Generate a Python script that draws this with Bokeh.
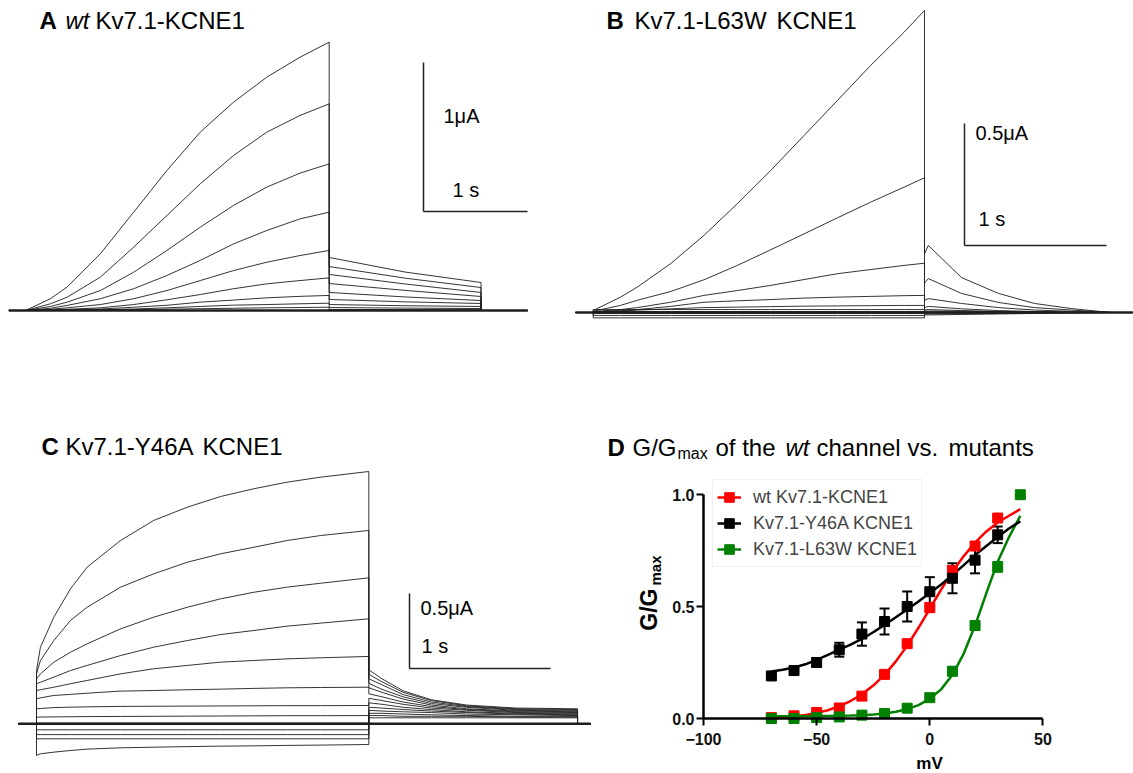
from bokeh.plotting import figure
from bokeh.layouts import column, row
from bokeh.models import (Label, Legend, LegendItem, FixedTicker, PrintfTickFormatter,
                          Whisker, TeeHead, ColumnDataSource, Range1d)
from bokeh.embed import file_html
from bokeh.resources import INLINE
import math

FONT = "Liberation Sans"
TRACE_COLOR = "#1e1e1e"

# ---------------- Panel A : wt Kv7.1-KCNE1 (time in s, current in uA) ----------------
A_T_PRE = -0.16
A_T_STEP = [0.0, 0.24, 0.40, 0.72, 1.04, 1.36, 1.68, 2.00, 2.32, 2.64, 2.92]
A_STEP = [
    [0.0, 0.079, 0.157, 0.381, 0.660, 0.940, 1.197, 1.398, 1.566, 1.700, 1.801],
    [0.0, 0.045, 0.089, 0.224, 0.425, 0.638, 0.850, 1.040, 1.197, 1.309, 1.387],
    [0.0, 0.027, 0.056, 0.134, 0.257, 0.403, 0.559, 0.705, 0.828, 0.922, 0.984],
    [0.0, 0.015, 0.034, 0.079, 0.146, 0.235, 0.336, 0.447, 0.537, 0.615, 0.660],
    [0.0, 0.008, 0.018, 0.040, 0.079, 0.134, 0.201, 0.268, 0.324, 0.369, 0.403],
    [0.0, 0.004, 0.008, 0.018, 0.040, 0.072, 0.107, 0.146, 0.179, 0.201, 0.219],
    [0.0, 0.003, 0.005, 0.010, 0.022, 0.035, 0.056, 0.070, 0.085, 0.095, 0.101],
    [0.0, 0.002, 0.003, 0.006, 0.010, 0.018, 0.027, 0.036, 0.040, 0.045, 0.049],
    [0.0, 0.001, 0.002, 0.004, 0.006, 0.009, 0.012, 0.015, 0.018, 0.020, 0.022],
    [0.0, 0.000, 0.000, 0.000, 0.000, 0.000, 0.000, 0.000, 0.000, 0.000, 0.000],
]
A_T_TAIL = [2.92, 3.65, 4.38]
A_TAIL = [
    [0.356, 0.258, 0.188],
    [0.295, 0.217, 0.154],
    [0.242, 0.178, 0.121],
    [0.181, 0.135, 0.094],
    [0.121, 0.091, 0.067],
    [0.074, 0.058, 0.047],
    [0.040, 0.032, 0.027],
    [0.020, 0.016, 0.013],
    [0.007, 0.006, 0.005],
    [0.000, 0.000, 0.000],
]
A_T_POST = 4.83
A_BAR_I = 1.0      # uA
A_BAR_T = 1.0      # s

# ---------------- Panel B : Kv7.1-L63W KCNE1 ----------------
B_T_PRE = -0.125
B_T_STEP = [0.0, 0.192, 0.31, 0.545, 0.78, 1.015, 1.25, 1.484, 1.72, 1.953, 2.19, 2.333]
B_STEP = [
    [0.008, 0.063, 0.104, 0.200, 0.316, 0.446, 0.582, 0.725, 0.869, 1.012, 1.149, 1.238],
    [0.005, 0.029, 0.050, 0.086, 0.134, 0.193, 0.257, 0.322, 0.388, 0.452, 0.514, 0.552],
    [0.004, 0.012, 0.020, 0.042, 0.070, 0.090, 0.111, 0.135, 0.159, 0.176, 0.193, 0.202],
    [0.003, 0.008, 0.012, 0.025, 0.042, 0.048, 0.053, 0.059, 0.063, 0.066, 0.069, 0.070],
    [0.002, 0.006, 0.010, 0.015, 0.020, 0.022, 0.024, 0.026, 0.027, 0.028, 0.029, 0.029],
    [0.012, 0.012, 0.012, 0.012, 0.012, 0.012, 0.012, 0.012, 0.012, 0.012, 0.012, 0.012],
    [0.004, 0.004, 0.004, 0.004, 0.004, 0.004, 0.004, 0.004, 0.004, 0.004, 0.004, 0.004],
    [-0.004, -0.004, -0.004, -0.004, -0.004, -0.004, -0.004, -0.004, -0.004, -0.004, -0.004, -0.004],
    [-0.012, -0.012, -0.012, -0.012, -0.012, -0.012, -0.012, -0.012, -0.012, -0.012, -0.012, -0.012],
    [-0.022, -0.022, -0.022, -0.022, -0.022, -0.022, -0.022, -0.022, -0.022, -0.022, -0.022, -0.022],
]
B_T_TAIL = [2.333, 2.36, 2.594, 2.855, 3.108, 3.369, 3.644]
B_TAIL = [
    [0.240, 0.275, 0.143, 0.078, 0.037, 0.016, 0.0],
    [0.120, 0.139, 0.078, 0.041, 0.020, 0.010, 0.0],
    [0.050, 0.057, 0.037, 0.020, 0.010, 0.005, 0.0],
    [0.020, 0.025, 0.015, 0.008, 0.004, 0.002, 0.0],
    [0.010, 0.012, 0.008, 0.004, 0.002, 0.000, 0.0],
    [0.006, 0.006, 0.005, 0.004, 0.002, 0.001, 0.0],
    [0.002, 0.002, 0.002, 0.001, 0.001, 0.000, 0.0],
    [-0.002, -0.002, -0.002, -0.001, -0.001, 0.000, 0.0],
    [-0.006, -0.006, -0.005, -0.004, -0.002, -0.001, 0.0],
    [-0.010, -0.010, -0.008, -0.006, -0.004, -0.002, 0.0],
]
B_T_POST = 3.80
B_BAR_I = 0.5
B_BAR_T = 1.0

# ---------------- Panel C : Kv7.1-Y46A KCNE1 ----------------
C_T_PRE = -0.128
C_T_STEP = [0.0, 0.028, 0.123, 0.241, 0.359, 0.596, 0.832, 1.069, 1.305, 1.541, 1.778, 2.014, 2.357]
C_STEP = [
    [0.355, 0.511, 0.711, 0.900, 1.044, 1.222, 1.356, 1.444, 1.515, 1.567, 1.611, 1.644, 1.682],
    [0.333, 0.422, 0.555, 0.689, 0.777, 0.911, 1.000, 1.077, 1.133, 1.177, 1.222, 1.255, 1.289],
    [0.300, 0.333, 0.411, 0.477, 0.533, 0.633, 0.711, 0.777, 0.833, 0.877, 0.911, 0.937, 0.973],
    [0.267, 0.277, 0.311, 0.355, 0.389, 0.455, 0.511, 0.555, 0.595, 0.622, 0.651, 0.671, 0.700],
    [0.222, 0.227, 0.244, 0.267, 0.289, 0.333, 0.367, 0.389, 0.411, 0.422, 0.433, 0.440, 0.449],
    [0.167, 0.173, 0.189, 0.196, 0.204, 0.218, 0.222, 0.227, 0.231, 0.236, 0.240, 0.242, 0.244],
    [0.100, 0.102, 0.108, 0.111, 0.113, 0.116, 0.117, 0.118, 0.119, 0.120, 0.121, 0.121, 0.122],
    [0.044, 0.045, 0.046, 0.047, 0.048, 0.049, 0.050, 0.051, 0.052, 0.053, 0.054, 0.054, 0.055],
    [0.004, 0.004, 0.004, 0.004, 0.004, 0.004, 0.004, 0.004, 0.004, 0.004, 0.004, 0.004, 0.004],
    [-0.040, -0.040, -0.040, -0.040, -0.040, -0.040, -0.040, -0.040, -0.040, -0.040, -0.040, -0.040, -0.040],
    [-0.072, -0.072, -0.072, -0.072, -0.072, -0.072, -0.072, -0.072, -0.072, -0.072, -0.072, -0.072, -0.072],
    [-0.100, -0.100, -0.100, -0.100, -0.100, -0.100, -0.100, -0.100, -0.100, -0.100, -0.100, -0.100, -0.100],
    [-0.211, -0.200, -0.189, -0.178, -0.169, -0.160, -0.156, -0.152, -0.149, -0.147, -0.144, -0.142, -0.138],
]
C_T_TAIL = [2.357, 2.45, 2.6, 2.8, 3.05, 3.4, 3.837]
C_TAIL = [
    [0.360, 0.300, 0.220, 0.160, 0.125, 0.105, 0.100],
    [0.330, 0.280, 0.210, 0.155, 0.120, 0.100, 0.095],
    [0.300, 0.260, 0.195, 0.145, 0.115, 0.095, 0.090],
    [0.270, 0.230, 0.180, 0.135, 0.110, 0.090, 0.085],
    [0.240, 0.210, 0.165, 0.125, 0.100, 0.085, 0.080],
    [0.200, 0.180, 0.145, 0.115, 0.095, 0.080, 0.075],
    [0.170, 0.155, 0.130, 0.105, 0.090, 0.075, 0.070],
    [0.140, 0.130, 0.110, 0.095, 0.080, 0.070, 0.065],
    [0.110, 0.105, 0.095, 0.085, 0.075, 0.065, 0.060],
    [0.090, 0.085, 0.080, 0.075, 0.065, 0.060, 0.055],
    [0.070, 0.070, 0.065, 0.060, 0.055, 0.050, 0.050],
    [0.055, 0.055, 0.050, 0.050, 0.050, 0.045, 0.045],
    [0.040, 0.040, 0.040, 0.040, 0.040, 0.040, 0.040],
]
C_T_POST = 3.93
C_BAR_I = 0.5
C_BAR_T = 1.0

# ---------------- Panel D : G/Gmax ----------------
D_MV = [-70, -60, -50, -40, -30, -20, -10, 0, 10, 20, 30]
WT_G = [0.004, 0.012, 0.027, 0.047, 0.100, 0.197, 0.334, 0.495, 0.660, 0.770, 0.895]
WT_ERR = [0.003, 0.005, 0.005, 0.008, 0.010, 0.012, 0.015, 0.020, 0.020, 0.015, 0.010]
Y46A_G = [0.190, 0.214, 0.250, 0.307, 0.377, 0.433, 0.500, 0.566, 0.626, 0.707, 0.820]
Y46A_ERR = [0.010, 0.010, 0.020, 0.031, 0.052, 0.058, 0.067, 0.065, 0.067, 0.059, 0.037]
L63W_MV = [-70, -60, -50, -40, -30, -20, -10, 0, 10, 20, 30, 40]
L63W_G = [0.000, 0.000, 0.004, 0.007, 0.015, 0.022, 0.046, 0.093, 0.211, 0.415, 0.677, 0.999]
L63W_ERR = [0.0, 0.0, 0.0, 0.0, 0.003, 0.004, 0.006, 0.010, 0.018, 0.020, 0.022, 0.0]

FIT_MV = [-70, -65, -60, -55, -50, -45, -40, -35, -30, -25, -20, -15, -10, -5,
          0, 5, 10, 15, 20, 25, 30, 35, 40]
WT_FIT = [0.002, 0.005, 0.010, 0.016, 0.025, 0.037, 0.055, 0.078, 0.108, 0.147, 0.195, 0.255,
          0.325, 0.405, 0.490, 0.575, 0.655, 0.725, 0.785, 0.835, 0.875, 0.905, 0.935]
Y46A_FIT = [0.210, 0.218, 0.228, 0.242, 0.262, 0.284, 0.307, 0.330, 0.355, 0.385, 0.418, 0.452,
            0.487, 0.522, 0.560, 0.598, 0.640, 0.685, 0.730, 0.770, 0.810, 0.848, 0.880]
L63W_FIT = [0.010, 0.010, 0.010, 0.010, 0.011, 0.011, 0.012, 0.013, 0.015, 0.018, 0.022, 0.030,
            0.042, 0.060, 0.088, 0.130, 0.195, 0.290, 0.415, 0.560, 0.700, 0.810, 0.905]

D_XTICKS = [-100, -50, 0, 50]
D_YTICKS = [0.0, 0.5, 1.0]
LEGEND_LABELS = ["wt Kv7.1-KCNE1", "Kv7.1-Y46A KCNE1", "Kv7.1-L63W KCNE1"]
RED, BLACK, GREEN = "#ff0000", "#000000", "#008000"


# ---------------- geometry helpers (pixel layout of each panel) ----------------
class Geo:
    def __init__(self, left, top, w, h, x0_px, px_x, y0_px, px_y):
        self.left, self.top, self.w, self.h = left, top, w, h
        self.x0_px, self.px_x, self.y0_px, self.px_y = x0_px, px_x, y0_px, px_y

    def x(self, gx):
        return (gx - self.x0_px) / self.px_x

    def y(self, gy):
        return (self.y0_px - gy) / self.px_y

    def xr(self):
        return Range1d(self.x(self.left), self.x(self.left + self.w))

    def yr(self):
        return Range1d(self.y(self.top + self.h), self.y(self.top))


GA = Geo(0, 0, 566, 400, 25.0, 104.0, 310.0, 149.0)
GB = Geo(566, 0, 567, 400, 592.7, 142.0, 312.0, 244.0)
GC = Geo(0, 400, 600, 373, 36.0, 141.0, 723.3, 150.0)
GD = Geo(600, 400, 533, 373, 929.3, 2.263, 718.0, 224.0)


def label(p, x, y, text, size, style="normal", align="left", baseline="alphabetic", angle=0.0):
    p.add_layout(Label(x=x, y=y, text=text, text_font=FONT, text_font_size=size,
                       text_font_style=style, text_align=align, text_baseline=baseline,
                       angle=angle, text_color="black"))


def base_fig(g, axes=False):
    kw = {} if axes else dict(x_axis_location=None, y_axis_location=None)
    p = figure(width=g.w, height=g.h, x_range=g.xr(), y_range=g.yr(),
               output_backend="svg", toolbar_location=None, min_border=0, **kw)
    p.xgrid.visible = False
    p.ygrid.visible = False
    p.outline_line_color = None
    return p


def add_traces(p, t_pre, t_step, steps, t_tail, tails, t_post):
    xs, ys = [], []
    for s, tl in zip(steps, tails):
        xs.append([t_pre, t_step[0]] + list(t_step) + list(t_tail) + [t_tail[-1], t_post])
        ys.append([0.0, 0.0] + list(s) + list(tl) + [0.0, 0.0])
    src = ColumnDataSource(dict(xs=xs, ys=ys))
    p.multi_line("xs", "ys", source=src, line_color=TRACE_COLOR, line_width=1.0, line_alpha=0.9)
    p.line([t_pre, t_post], [0.0, 0.0], line_color=TRACE_COLOR, line_width=2.5)


def add_scalebar(p, g, gx, gy, bar_t, bar_i):
    t0, i0 = g.x(gx), g.y(gy)
    p.line([t0, t0], [i0, i0 + bar_i], line_color="#222222", line_width=1.5)
    p.line([t0, t0 + bar_t], [i0, i0], line_color="#222222", line_width=1.5)


# ---------------- Panel A ----------------
pA = base_fig(GA)
add_traces(pA, A_T_PRE, A_T_STEP, A_STEP, A_T_TAIL, A_TAIL, A_T_POST)
add_scalebar(pA, GA, 423, 211, A_BAR_T, A_BAR_I)
label(pA, GA.x(443), GA.y(115), "1\u03bcA", "20px")
label(pA, GA.x(452), GA.y(189), "1 s", "20px")
label(pA, GA.x(39), GA.y(20), "A", "24px", "bold")
label(pA, GA.x(65), GA.y(20), "wt", "24px", "italic")
label(pA, GA.x(95), GA.y(20), "Kv7.1-KCNE1", "24px")

# ---------------- Panel B ----------------
pB = base_fig(GB)
add_traces(pB, B_T_PRE, B_T_STEP, B_STEP, B_T_TAIL, B_TAIL, B_T_POST)
add_scalebar(pB, GB, 964, 245, B_BAR_T, B_BAR_I)
label(pB, GB.x(975), GB.y(132), "0.5\u03bcA", "20px")
label(pB, GB.x(978), GB.y(218), "1 s", "20px")
label(pB, GB.x(606), GB.y(20), "B", "24px", "bold")
label(pB, GB.x(634), GB.y(20), "Kv7.1-L63W", "24px")
label(pB, GB.x(776), GB.y(20), "KCNE1", "24px")

# ---------------- Panel C ----------------
pC = base_fig(GC)
add_traces(pC, C_T_PRE, C_T_STEP, C_STEP, C_T_TAIL, C_TAIL, C_T_POST)
add_scalebar(pC, GC, 409, 668, C_BAR_T, C_BAR_I)
label(pC, GC.x(420), GC.y(607), "0.5\u03bcA", "20px")
label(pC, GC.x(421), GC.y(645), "1 s", "20px")
label(pC, GC.x(41), GC.y(446), "C", "24px", "bold")
label(pC, GC.x(65), GC.y(446), "Kv7.1-Y46A", "24px")
label(pC, GC.x(202), GC.y(446), "KCNE1", "24px")

# ---------------- Panel D ----------------
pD = base_fig(GD, axes=True)
xa = pD.xaxis[0]
ya = pD.yaxis[0]
xa.fixed_location = D_YTICKS[0]
ya.fixed_location = D_XTICKS[0]
xa.bounds = (D_XTICKS[0], D_XTICKS[-1])
ya.bounds = (D_YTICKS[0], D_YTICKS[-1])
xa.ticker = FixedTicker(ticks=D_XTICKS, minor_ticks=[])
ya.ticker = FixedTicker(ticks=D_YTICKS, minor_ticks=[])
ya.formatter = PrintfTickFormatter(format="%.1f")
for ax in (xa, ya):
    ax.axis_line_width = 2.5
    ax.axis_line_color = "black"
    ax.major_tick_line_width = 2
    ax.major_tick_line_color = "black"
    ax.major_tick_out = 7
    ax.major_tick_in = 0
    ax.minor_tick_out = 0
    ax.minor_tick_in = 0
    ax.major_label_text_font = FONT
    ax.major_label_text_font_size = "16px"
    ax.major_label_text_font_style = "bold"
    ax.major_label_text_color = "#111111"
xa.major_label_standoff = 7
ya.major_label_standoff = 2

r_wt_line = pD.line(FIT_MV, WT_FIT, line_color=RED, line_width=2.5)
r_l63_line = pD.line(FIT_MV, L63W_FIT, line_color=GREEN, line_width=2.5)
r_y46_line = pD.line(FIT_MV, Y46A_FIT, line_color=BLACK, line_width=2.5)


def add_err(p, xs, ys, errs, color):
    src = ColumnDataSource(dict(x=xs, lo=[y - e for y, e in zip(ys, errs)],
                                hi=[y + e for y, e in zip(ys, errs)]))
    w = Whisker(source=src, base="x", lower="lo", upper="hi", line_color=color, line_width=2,
                lower_head=TeeHead(size=10, line_color=color, line_width=2),
                upper_head=TeeHead(size=10, line_color=color, line_width=2))
    p.add_layout(w)


add_err(pD, D_MV, WT_G, WT_ERR, RED)
add_err(pD, L63W_MV, L63W_G, L63W_ERR, GREEN)
add_err(pD, D_MV, Y46A_G, Y46A_ERR, BLACK)
r_wt_pts = pD.scatter(D_MV, WT_G, marker="square", size=10, color=RED)
r_l63_pts = pD.scatter(L63W_MV, L63W_G, marker="square", size=10, color=GREEN)
r_y46_pts = pD.scatter(D_MV, Y46A_G, marker="square", size=10, color=BLACK)

legend = Legend(items=[
    LegendItem(label=LEGEND_LABELS[0], renderers=[r_wt_line, r_wt_pts]),
    LegendItem(label=LEGEND_LABELS[1], renderers=[r_y46_line, r_y46_pts]),
    LegendItem(label=LEGEND_LABELS[2], renderers=[r_l63_line, r_l63_pts]),
], location=(112, 206))
legend.border_line_color = "#e3e3e3"
legend.border_line_width = 1
legend.background_fill_color = "white"
legend.background_fill_alpha = 1.0
legend.padding = 4
legend.spacing = 0
legend.margin = 0
legend.glyph_width = 24
legend.glyph_height = 26
legend.label_height = 26
legend.label_standoff = 12
legend.label_text_font = FONT
legend.label_text_font_size = "18px"
pD.add_layout(legend)

# Title of panel D
label(pD, GD.x(607), GD.y(447), "D", "24px", "bold")
label(pD, GD.x(632), GD.y(447), "G/G", "24px")
label(pD, GD.x(677), GD.y(453), "max", "16px")
label(pD, GD.x(715), GD.y(447), "of the", "24px")
label(pD, GD.x(785), GD.y(447), "wt", "24px", "italic")
label(pD, GD.x(816), GD.y(447), "channel", "24px")
label(pD, GD.x(907), GD.y(447), "vs.", "24px")
label(pD, GD.x(948), GD.y(447), "mutants", "24px")

# axis titles
label(pD, GD.x(929), GD.y(763), "mV", "17px", "bold", align="center", baseline="middle")
label(pD, GD.x(648), GD.y(588), "G/G", "23px", "bold", align="right", baseline="middle", angle=math.pi / 2)
label(pD, GD.x(655), GD.y(585), "max", "15px", "bold", align="left", baseline="middle", angle=math.pi / 2)

layout = column(row(pA, pB, spacing=0), row(pC, pD, spacing=0), spacing=0)

with open("out.html", "w") as f:
    f.write(file_html(layout, INLINE))
